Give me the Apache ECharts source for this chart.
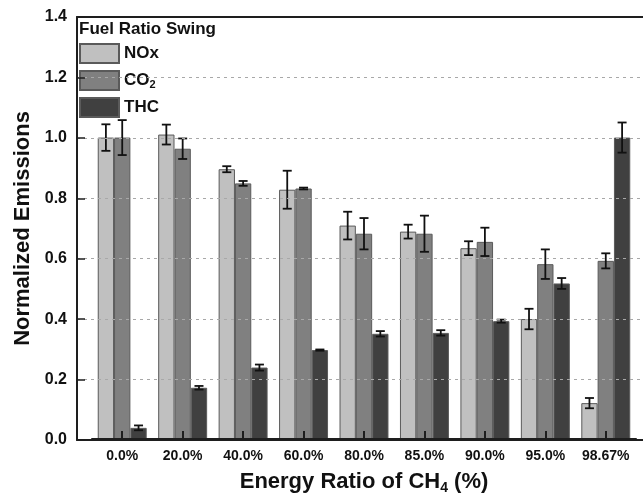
<!DOCTYPE html>
<html>
<head>
<meta charset="utf-8">
<script src="https://cdn.jsdelivr.net/npm/echarts@6/dist/echarts.min.js"></script>
<style>
  html, body { margin: 0; padding: 0; background: #fff; }
  #chart { width: 643px; height: 500px; }
</style>
</head>
<body>
<div id="chart"></div>
<script>
// Energy ratio of CH4 for each operating point
const categories = ['0.0%', '20.0%', '40.0%', '60.0%', '80.0%', '85.0%', '90.0%', '95.0%', '98.67%'];

// Normalized emissions (mean) and their standard deviations
const noxValues = [1.00, 1.01, 0.895, 0.827, 0.708, 0.688, 0.633, 0.398, 0.119];
const noxErrors = [0.044, 0.033, 0.010, 0.063, 0.046, 0.023, 0.023, 0.034, 0.017];
const co2Values = [1.00, 0.963, 0.848, 0.831, 0.681, 0.681, 0.654, 0.580, 0.591];
const co2Errors = [0.058, 0.034, 0.008, 0.003, 0.052, 0.060, 0.047, 0.049, 0.025];
const thcValues = [0.037, 0.170, 0.237, 0.295, 0.349, 0.352, 0.391, 0.516, 1.00];
const thcErrors = [0.008, 0.006, 0.010, 0.002, 0.009, 0.009, 0.005, 0.018, 0.050];

const yTicks = [0, 0.2, 0.4, 0.6, 0.8, 1.0, 1.2, 1.4];

const FONT = '"Liberation Sans", Arial, sans-serif';
const catGap = 0.19;
const seriesDefs = [
  { name: 'NOx', values: noxValues, errors: noxErrors, color: '#c0c0c0' },
  { name: 'CO2', values: co2Values, errors: co2Errors, color: '#808080' },
  { name: 'THC', values: thcValues, errors: thcErrors, color: '#404040' }
];

const chart = echarts.init(document.getElementById('chart'), null, { renderer: 'canvas' });

const barSeries = seriesDefs.map(s => ({
  name: s.name,
  type: 'bar',
  xAxisIndex: 2,
  yAxisIndex: 1,
  data: s.values,
  barGap: '0%',
  barCategoryGap: (catGap * 100) + '%',
  itemStyle: { color: s.color, borderColor: '#5a5a5a', borderWidth: 1 },
  z: 2
}));

// Error bars offset to the centre of each bar within its group
const errorSeries = seriesDefs.map((s, k) => ({
  name: s.name + ' sd',
  type: 'custom',
  xAxisIndex: 2,
  yAxisIndex: 1,
  z: 5,
  encode: { x: 0, y: 1 },
  data: s.values.map((v, i) => [i, v, s.errors[i]]),
  renderItem: function (params, api) {
    const idx = api.value(0), v = api.value(1), e = api.value(2);
    const band = api.size([1, 0])[0];
    const bw = band * (1 - catGap) / 3;
    const off = (k - 1) * bw;
    const top = api.coord([idx, v + e]);
    const bot = api.coord([idx, v - e]);
    const x = top[0] + off;
    const h = 4.5;
    const st = { stroke: '#111', lineWidth: 1.8 };
    return {
      type: 'group',
      children: [
        { type: 'line', shape: { x1: x, y1: top[1], x2: x, y2: bot[1] }, style: st },
        { type: 'line', shape: { x1: x - h, y1: top[1], x2: x + h, y2: top[1] }, style: st },
        { type: 'line', shape: { x1: x - h, y1: bot[1], x2: x + h, y2: bot[1] }, style: st }
      ]
    };
  }
}));

const frameLine = { show: true, lineStyle: { color: '#1e1e1e', width: 2 } };

chart.setOption({
  backgroundColor: '#ffffff',
  animation: false,
  title: {
    text: 'Fuel Ratio Swing',
    left: 79,
    top: 21,
    padding: 0,
    textStyle: { fontFamily: FONT, fontSize: 17, fontWeight: 'bold', color: '#111' }
  },
  legend: {
    data: seriesDefs.map(s => s.name),
    orient: 'vertical',
    left: 79,
    top: 43,
    padding: 0,
    itemWidth: 39,
    itemHeight: 19,
    itemGap: 6,
    icon: 'rect',
    formatter: name => name === 'CO2' ? '{m|CO}{sub|2}' : '{m|' + name + '}',
    textStyle: {
      fontFamily: FONT, fontSize: 17, fontWeight: 'bold', color: '#111', lineHeight: 19,
      rich: {
        m: { fontFamily: FONT, fontSize: 17, fontWeight: 'bold', color: '#111', lineHeight: 19 },
        sub: { fontFamily: FONT, fontSize: 11, fontWeight: 'bold', color: '#111', lineHeight: 11, padding: [8, 0, 0, 0] }
      }
    }
  },
  grid: [
    { left: 77, right: -5, top: 17, bottom: 60 },
    { left: 92, right: 7, top: 17, bottom: 60 }
  ],
  xAxis: [
    {
      gridIndex: 0, type: 'value', min: 0, max: 1, position: 'bottom', z: 10,
      axisLine: frameLine, axisTick: { show: false }, axisLabel: { show: false }, splitLine: { show: false }
    },
    {
      gridIndex: 0, type: 'value', min: 0, max: 1, position: 'top', z: 10,
      axisLine: frameLine, axisTick: { show: false }, axisLabel: { show: false }, splitLine: { show: false }
    },
    {
      gridIndex: 1, type: 'category', data: categories, z: 20,
      axisLine: frameLine,
      axisTick: { show: true, inside: true, length: 8, alignWithLabel: true, interval: 0, lineStyle: { color: '#1e1e1e', width: 2 } },
      axisLabel: { interval: 0, fontFamily: FONT, fontSize: 14, fontWeight: 'bold', color: '#111', margin: 10 },
      name: 'Energy Ratio of CH{sub|4} (%)',
      nameLocation: 'middle',
      nameGap: 32,
      nameTextStyle: {
        fontFamily: FONT, fontSize: 22, fontWeight: 'bold', color: '#111',
        rich: {
          sub: { fontFamily: FONT, fontSize: 14, fontWeight: 'bold', color: '#111', lineHeight: 14, padding: [12, 0, 0, 0] }
        }
      }
    }
  ],
  yAxis: [
    {
      gridIndex: 0, type: 'value', min: yTicks[0], max: yTicks[yTicks.length - 1], interval: 0.2, z: 10,
      axisLine: frameLine,
      axisTick: { show: true, inside: true, length: 8, lineStyle: { color: '#1e1e1e', width: 1.5 } },
      axisLabel: {
        fontFamily: FONT, fontSize: 16, fontWeight: 'bold', color: '#111', margin: 10,
        formatter: v => v.toFixed(1)
      },
      splitLine: { show: true, lineStyle: { color: '#a8a8a8', width: 1, type: [3, 4] } },
      name: 'Normalized Emissions',
      nameLocation: 'middle',
      nameGap: 39,
      nameTextStyle: { fontFamily: FONT, fontSize: 22, fontWeight: 'bold', color: '#111' }
    },
    {
      gridIndex: 1, type: 'value', min: yTicks[0], max: yTicks[yTicks.length - 1], show: false
    }
  ],
  series: barSeries.concat(errorSeries)
});
</script>
</body>
</html>
